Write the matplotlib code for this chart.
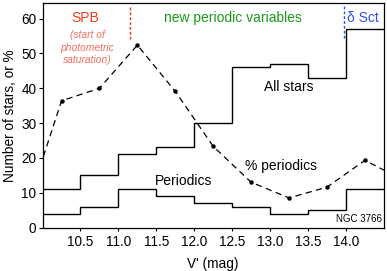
import numpy as np
import matplotlib.pyplot as plt

plt.rcParams['font.family'] = ['Liberation Sans', 'DejaVu Sans']

# bin edges in V' (mag)
bin_edges = [10.0, 10.5, 11.0, 11.5, 12.0, 12.5, 13.0, 13.5, 14.0, 14.5]
all_stars = [11, 15, 21, 23, 30, 46, 47, 43, 57]
periodics = [4, 6, 11, 9, 7, 6, 4, 5, 11]

# % periodics at bin centres (line continues past the plot edges)
pct_x = [9.75, 10.25, 10.75, 11.25, 11.75, 12.25, 12.75, 13.25, 13.75, 14.25, 14.75]
pct_y = [3.0, 36.4, 40.0, 52.4, 39.1, 23.3, 13.0, 8.5, 11.6, 19.3, 13.7]

spb_edge = 11.15
dsct_edge = 13.97

fig = plt.figure(figsize=(3.87, 2.71), dpi=100)
ax = fig.add_axes([0.110, 0.1605, 0.882, 0.8285])

ax.stairs(all_stars, bin_edges, color='black', lw=1.0, baseline=None)
ax.stairs(periodics, bin_edges, color='black', lw=1.0, baseline=None)
ax.plot(pct_x, pct_y, color='black', lw=0.9, ls=(0, (5, 3.5)),
        marker='o', ms=2.2, mfc='black', mec='black')

ax.plot([spb_edge, spb_edge], [54.2, 64.0], color='#ee3030', lw=1.0, ls=(0, (2, 1.5)))
ax.plot([dsct_edge, dsct_edge], [54.5, 64.0], color='#3050e0', lw=1.0, ls=(0, (2, 1.5)))

ax.text(10.56, 60.2, 'SPB', color='#ee3a20', fontsize=10, ha='center', va='center')
ax.text(10.59, 51.6, '(start of\nphotometric\nsaturation)', color='#f07060',
        fontsize=7.4, style='italic', ha='center', va='center', linespacing=1.3)
ax.text(12.51, 60.2, 'new periodic variables', color='#1a9a1a', fontsize=10,
        ha='center', va='center')
ax.text(14.22, 60.2, 'δ Sct', color='#3050e0', fontsize=10, ha='center', va='center')
ax.text(13.25, 40.5, 'All stars', fontsize=10, ha='center', va='center')
ax.text(13.14, 17.7, '% periodics', fontsize=10, ha='center', va='center')
ax.text(11.86, 13.5, 'Periodics', fontsize=10, ha='center', va='center')
ax.text(14.47, 2.5, 'NGC 3766', fontsize=7, ha='right', va='center')

ax.set_xlim(10.0, 14.5)
ax.set_ylim(0, 64.5)
ax.set_xticks([10.5, 11.0, 11.5, 12.0, 12.5, 13.0, 13.5, 14.0])
ax.set_xticklabels(['10.5', '11.0', '11.5', '12.0', '12.5', '13.0', '13.5', '14.0'])
ax.set_yticks([0, 10, 20, 30, 40, 50, 60])
ax.tick_params(axis='x', length=2.5, width=0.8, direction='out', pad=3, labelsize=9.8)
ax.tick_params(axis='y', length=3, width=0.8, direction='out', pad=1.5, labelsize=9.8)
for s in ax.spines.values():
    s.set_linewidth(0.9)

ax.set_xlabel("V' (mag)", fontsize=9.8, labelpad=6)
ax.set_ylabel('Number of stars, or %', fontsize=9.8, labelpad=3)

fig.savefig('out.png', dpi=100)
